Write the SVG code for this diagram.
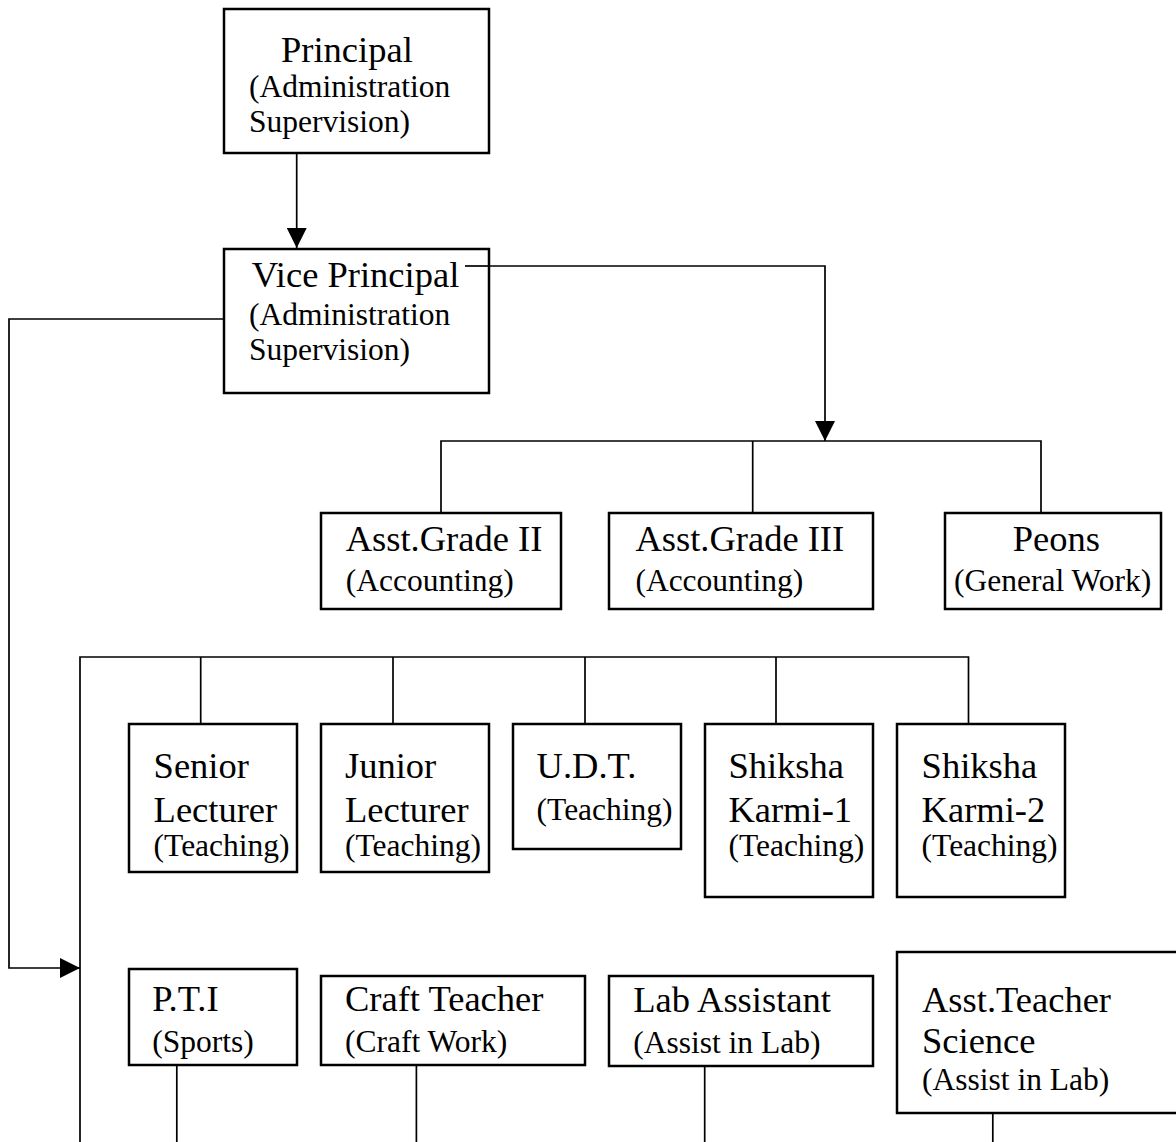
<svg xmlns="http://www.w3.org/2000/svg" width="1176" height="1142" viewBox="0 0 1176 1142">
<style>
.box{fill:#fff;stroke:#000;stroke-width:2.5}
.ln{fill:none;stroke:#000;stroke-width:1.7}
.t1{font-family:"Liberation Serif","Times New Roman",serif;font-size:36.5px;fill:#000}
.t2{font-family:"Liberation Serif","Times New Roman",serif;font-size:31.5px;fill:#000}
</style>
<defs>
<marker id="arr" markerUnits="userSpaceOnUse" markerWidth="20" markerHeight="20" refX="20" refY="10" orient="auto">
<path d="M0,0 L20,10 L0,20 Z" fill="#000"/>
</marker>
</defs>
<rect width="1176" height="1142" fill="#fff"/>
<g id="connectors">
<path class="ln" d="M296.7,153 V248" marker-end="url(#arr)"/>
<path class="ln" d="M465,266 H825 V441" marker-end="url(#arr)"/>
<path class="ln" d="M441,513 V441 H1041 V513 M752.7,441 V513"/>
<path class="ln" d="M224,319 H9 V968 H80" marker-end="url(#arr)"/>
<path class="ln" d="M80,1142 V657 H968.5 V724 M200.7,657 V724 M393,657 V724 M585,657 V724 M776,657 V724"/>
<path class="ln" d="M176.8,1065 V1142 M416.4,1065 V1142 M704.7,1066 V1142 M992.8,1113 V1142"/>
</g>
<g id="principal">
<rect class="box" x="224" y="9" width="265" height="144"/>
<text class="t1" x="281" y="62">Principal</text>
<text class="t2" x="249" y="97">(Administration</text>
<text class="t2" x="249" y="132">Supervision)</text>
</g>
<g id="vice-principal">
<rect class="box" x="224" y="249" width="265" height="144"/>
<text class="t1" x="251.7" y="287">Vice Principal</text>
<text class="t2" x="249" y="325">(Administration</text>
<text class="t2" x="249" y="360">Supervision)</text>
</g>
<path class="ln" d="M465,266 H489"/>
<g id="asst-grade-2">
<rect class="box" x="321" y="513" width="240" height="96"/>
<text class="t1" x="345.7" y="550.7">Asst.Grade II</text>
<text class="t2" x="345.7" y="590.7">(Accounting)</text>
</g>
<g id="asst-grade-3">
<rect class="box" x="609" y="513" width="264" height="96"/>
<text class="t1" x="635.4" y="550.7">Asst.Grade III</text>
<text class="t2" x="635.4" y="590.7">(Accounting)</text>
</g>
<g id="peons">
<rect class="box" x="945" y="513" width="216" height="96"/>
<text class="t1" x="1012.7" y="550.7">Peons</text>
<text class="t2" x="954" y="590.7">(General Work)</text>
</g>
<g id="senior-lecturer">
<rect class="box" x="129" y="724" width="168" height="148"/>
<text class="t1" x="153.6" y="778">Senior</text>
<text class="t1" x="153.6" y="821.7">Lecturer</text>
<text class="t2" x="153.6" y="856">(Teaching)</text>
</g>
<g id="junior-lecturer">
<rect class="box" x="321" y="724" width="168" height="148"/>
<text class="t1" x="345" y="778">Junior</text>
<text class="t1" x="345" y="821.7">Lecturer</text>
<text class="t2" x="345" y="856">(Teaching)</text>
</g>
<g id="udt">
<rect class="box" x="513" y="724" width="168" height="125"/>
<text class="t1" x="536.6" y="778">U.D.T.</text>
<text class="t2" x="536.6" y="820">(Teaching)</text>
</g>
<g id="shiksha-karmi-1">
<rect class="box" x="705" y="724" width="168" height="173"/>
<text class="t1" x="728.4" y="778">Shiksha</text>
<text class="t1" x="728.4" y="821.7">Karmi-1</text>
<text class="t2" x="728.4" y="856">(Teaching)</text>
</g>
<g id="shiksha-karmi-2">
<rect class="box" x="897" y="724" width="168" height="173"/>
<text class="t1" x="921.6" y="778">Shiksha</text>
<text class="t1" x="921.6" y="821.7">Karmi-2</text>
<text class="t2" x="921.6" y="856">(Teaching)</text>
</g>
<g id="pti">
<rect class="box" x="129" y="969" width="168" height="96"/>
<text class="t1" x="152.3" y="1010.7">P.T.I</text>
<text class="t2" x="152.3" y="1052">(Sports)</text>
</g>
<g id="craft-teacher">
<rect class="box" x="321" y="976" width="264" height="89"/>
<text class="t1" x="345" y="1010.7">Craft Teacher</text>
<text class="t2" x="345" y="1052">(Craft Work)</text>
</g>
<g id="lab-assistant">
<rect class="box" x="609" y="976" width="264" height="90"/>
<text class="t1" x="633.2" y="1011.7">Lab Assistant</text>
<text class="t2" x="633.2" y="1053">(Assist in Lab)</text>
</g>
<g id="asst-teacher-science">
<rect class="box" x="897" y="952" width="282" height="161"/>
<text class="t1" x="922" y="1011.7">Asst.Teacher</text>
<text class="t1" x="922" y="1053.3">Science</text>
<text class="t2" x="922" y="1090">(Assist in Lab)</text>
</g>
</svg>
